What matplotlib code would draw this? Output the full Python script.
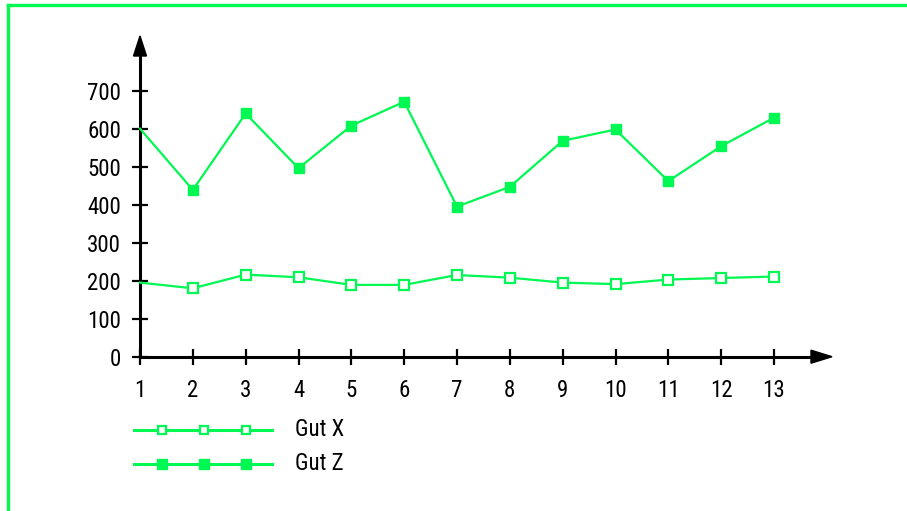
import matplotlib
matplotlib.use("Agg")
import matplotlib.pyplot as plt
from matplotlib.lines import Line2D
from matplotlib.patches import Polygon

# data
x = list(range(1, 14))
gut_x = [195, 180, 216, 209, 189, 189, 215, 208, 195, 191, 203, 207, 211]
gut_z = [600, 439, 640, 496, 608, 671, 395, 447, 568, 598, 462, 554, 629]
series_names = ["Gut X", "Gut Z"]
yticks = [0, 100, 200, 300, 400, 500, 600, 700]

GREEN = "#00F852"
W, H = 907, 511
FS = 16.5

plt.rcParams["font.family"] = ["Liberation Sans Narrow", "Roboto Condensed",
                               "Liberation Sans", "DejaVu Sans"]


def fx(px):
    return px / W


def fy(py):
    return 1 - py / H


fig = plt.figure(figsize=(W / 100, H / 100), dpi=100)

# axes box: x=1 at px 140, x=13 at px 774; y=0 at px 356.7, y=700 at px 90.7
x0, x_tip = 140, 832
y0, y_tip = 356.7, 36
ax = fig.add_axes([fx(x0), fy(y0), (x_tip - x0) / W, (y0 - y_tip) / H])
step = (774 - 140) / 12.0
ax.set_xlim(1, 1 + (x_tip - x0) / step)
yscale = (356.7 - 90.7) / 700.0
ax.set_ylim(0, (y0 - y_tip) / yscale)
ax.patch.set_alpha(0)

ax.plot(x, gut_x, color=GREEN, lw=1.6, marker="s", ms=6.5, mfc="white",
        mec=GREEN, mew=1.6, markevery=slice(1, None), clip_on=False, zorder=3)
ax.plot(x, gut_z, color=GREEN, lw=1.6, marker="s", ms=7, mfc=GREEN,
        mec=GREEN, markevery=slice(1, None), clip_on=False, zorder=3)

for side in ["top", "right"]:
    ax.spines[side].set_visible(False)
for side in ["left", "bottom"]:
    ax.spines[side].set_linewidth(2.2)
ax.spines["left"].set_bounds(0, (y0 - 52) / yscale)
ax.spines["bottom"].set_bounds(1, 1 + (x_tip - 16 - x0) / step)

ax.set_xticks(x)
ax.set_yticks(yticks)
ax.tick_params(axis="both", direction="inout", length=11.5, width=1.6,
               labelsize=FS, colors="black")
ax.tick_params(axis="y", pad=8)
ax.tick_params(axis="x", pad=10)

# arrow heads
fig.add_artist(Polygon([[fx(x0), fy(y_tip)], [fx(x0 - 6.5), fy(y_tip + 20)],
                        [fx(x0 + 6.5), fy(y_tip + 20)]], closed=True,
                       transform=fig.transFigure, color="black"))
fig.add_artist(Polygon([[fx(x_tip), fy(y0)], [fx(x_tip - 21), fy(y0 - 6.5)],
                        [fx(x_tip - 21), fy(y0 + 6.5)]], closed=True,
                       transform=fig.transFigure, color="black"))

# green frame, top and left only
fig.add_artist(Line2D([fx(8), 1], [fy(5), fy(5)], color=GREEN, lw=2.4,
                      transform=fig.transFigure))
fig.add_artist(Line2D([fx(8), fx(8)], [0, fy(5)], color=GREEN, lw=2.4,
                      transform=fig.transFigure))

# legend drawn by hand
styles = [dict(mfc="white", mec=GREEN, mew=1.6, ms=5.5),
          dict(mfc=GREEN, mec=GREEN, ms=7)]
for i, (name, st) in enumerate(zip(series_names, styles)):
    ly = fy(430 + i * 34)
    fig.add_artist(Line2D([fx(134), fx(272)], [ly, ly], color=GREEN, lw=2.2,
                          transform=fig.transFigure))
    fig.add_artist(Line2D([fx(162), fx(204), fx(246)], [ly] * 3, ls="none",
                          marker="s", transform=fig.transFigure, **st))
    fig.text(fx(295), ly, name, fontsize=FS, va="center", ha="left")

fig.savefig("out.png", dpi=100)
